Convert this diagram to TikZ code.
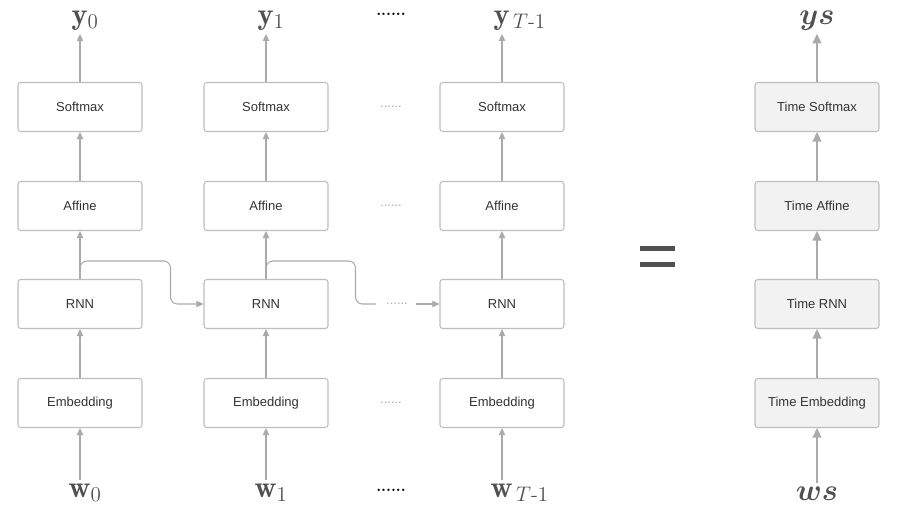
\documentclass[tikz,border=0pt]{standalone}
\usepackage{mathtools}
\usepackage{fontspec}
\setsansfont{Liberation Sans}
\usepackage{tikz}
\usetikzlibrary{positioning,arrows.meta,calc}
\definecolor{rnLine}{RGB}{170,170,170}
\definecolor{rnBorder}{RGB}{190,190,190}
\definecolor{rnFill}{RGB}{242,242,242}
\definecolor{rnText}{RGB}{51,51,51}
\definecolor{rnLabel}{RGB}{80,80,80}

\begin{document}
\begin{tikzpicture}[
    x=0.02cm, y=-0.02cm,
    layer/.style={rectangle, rounded corners=1.5pt, draw=rnBorder, line width=0.6pt, fill=white,
      minimum width=2.48cm, minimum height=0.98cm, font=\sffamily\fontsize{7.4}{9}\selectfont, text=rnText},
    timelayer/.style={layer, fill=rnFill},
    flow/.style={draw=rnLine, line width=0.6pt, -{Triangle[length=4pt, width=3.6pt]}},
    timeflow/.style={draw=rnLine, line width=1.1pt, -{Triangle[length=5.5pt, width=5pt]}},
    word/.style={font=\LARGE, text=rnLabel, inner sep=2pt},
    gap/.style={font=\sffamily\fontsize{7.4}{9}\selectfont, text=rnLine, inner sep=1pt},
    bigdots/.style={font=\bfseries\fontsize{8.5}{9}\selectfont, text=black, inner sep=1pt}
]
  \useasboundingbox (0,0) rectangle (903,531);

  % unrolled layers
  \node[layer] (sm0) at (80,107) {Softmax};
  \node[layer] (af0) at (80,206) {Affine};
  \node[layer] (rnn0) at (80,304) {RNN};
  \node[layer] (emb0) at (80,403) {Embedding};

  \node[layer] (sm1) at (266,107) {Softmax};
  \node[layer] (af1) at (266,206) {Affine};
  \node[layer] (rnn1) at (266,304) {RNN};
  \node[layer] (emb1) at (266,403) {Embedding};

  \node[layer] (sm2) at (502,107) {Softmax};
  \node[layer] (af2) at (502,206) {Affine};
  \node[layer] (rnn2) at (502,304) {RNN};
  \node[layer] (emb2) at (502,403) {Embedding};

  % inputs and outputs
  \node[word, anchor=base] (y0) at (80,24) {$\mathbf{y}_{\mathrlap{0}}$};
  \node[word, anchor=base] (y1) at (266,24) {$\mathbf{y}_{\mathrlap{1}}$};
  \node[word, anchor=base] (y2) at (502,24) {$\mathbf{y}_{\mathrlap{\,T\text{-}1}}$};
  \node[word, anchor=base] (w0) at (80,497) {$\mathbf{w}_{\mathrlap{0}}$};
  \node[word, anchor=base] (w1) at (266,497) {$\mathbf{w}_{\mathrlap{1}}$};
  \node[word, anchor=base] (w2) at (502,497) {$\mathbf{w}_{\mathrlap{\,T\text{-}1}}$};

  % dots between columns
  \node[bigdots] (dtop) at (391,14) {......};
  \node[gap] (dsm) at (391,107) {......};
  \node[gap] (daf) at (391,206) {......};
  \node[gap] (drnn) at (397,304) {......};
  \node[gap] (demb) at (391,403) {......};
  \node[bigdots] (dbot) at (391,490) {......};

  \foreach \c in {0,1,2} {
    \draw[flow] (w\c.north) -- (emb\c);
    \draw[flow] (emb\c) -- (rnn\c);
    \draw[flow] (rnn\c) -- (af\c);
    \draw[flow] (af\c) -- (sm\c);
    \draw[flow] (sm\c) -- (y\c.south);
  }

  % hidden state
  \draw[flow, rounded corners=4pt] (rnn0.north) -- ++(0,-18) -| ($(rnn0.east)+(28,0)$) -- (rnn1.west);
  \draw[draw=rnLine, line width=0.6pt, rounded corners=4pt] (rnn1.north) -- ++(0,-18) -| ($(rnn1.east)+(27,0)$) -- ($(drnn.west)+(-8,0)$);
  \draw[flow] ($(drnn.east)+(6,0)$) -- (rnn2.west);

  % equals
  \fill[rnLabel] (640,246) rectangle (675,251);
  \fill[rnLabel] (640,262) rectangle (675,267);

  % time layers
  \node[timelayer] (tsm) at (817,107) {Time Softmax};
  \node[timelayer] (taf) at (817,206) {Time Affine};
  \node[timelayer] (trnn) at (817,304) {Time RNN};
  \node[timelayer] (temb) at (817,403) {Time Embedding};
  \node[word, anchor=base] (ys) at (817,24) {$\boldsymbol{ys}$};
  \node[word, anchor=base] (ws) at (817,500) {$\boldsymbol{ws}$};

  \draw[timeflow] (ws.north) -- (temb);
  \draw[timeflow] (temb) -- (trnn);
  \draw[timeflow] (trnn) -- (taf);
  \draw[timeflow] (taf) -- (tsm);
  \draw[timeflow] (tsm) -- (ys.south);
\end{tikzpicture}
\end{document}
